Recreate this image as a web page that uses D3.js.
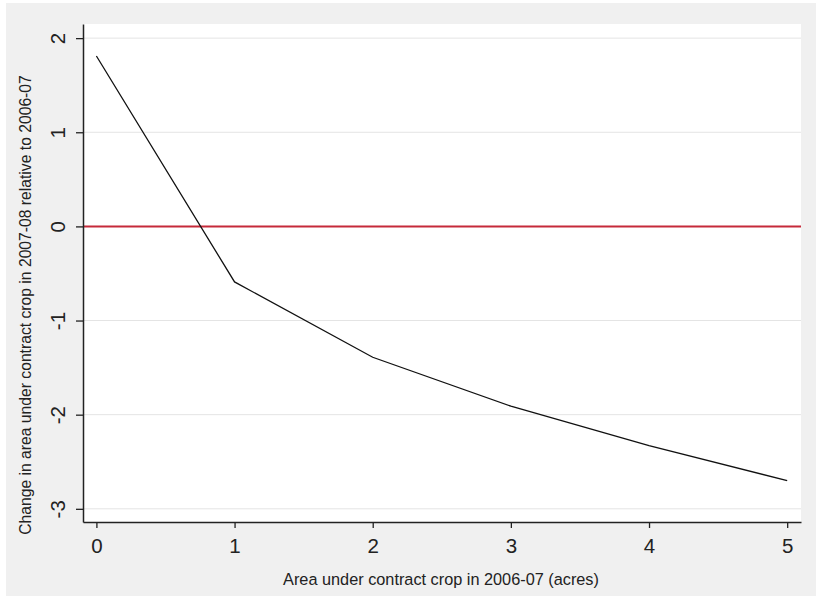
<!DOCTYPE html>
<html>
<head>
<meta charset="utf-8">
<script src="https://cdn.jsdelivr.net/npm/d3@7"></script>
<style>
  body { margin: 0; background: #fff; }
  text { font-family: "Liberation Sans", Arial, sans-serif; fill: #222; }
</style>
</head>
<body>
<svg id="chart" width="816" height="596"></svg>
<script>
// data
var acres = [0, 1, 2, 3, 4, 5];
var change = [1.81, -0.59, -1.39, -1.91, -2.33, -2.70];
var xTicks = [0, 1, 2, 3, 4, 5];
var yTicks = [-3, -2, -1, 0, 1, 2];

var svg = d3.select("#chart");

// plot box (white region)
var box = { left: 83, right: 801, top: 24, bottom: 522 };

var xScale = d3.scaleLinear().domain([-0.097, 5.1]).range([box.left, box.right]);
var yScale = d3.scaleLinear().domain([-3.14, 2.15]).range([box.bottom, box.top]);

// outer grey background
svg.append("rect")
    .attr("x", 6).attr("y", 3)
    .attr("width", 810).attr("height", 593)
    .attr("fill", "#f0f0f0");

svg.append("rect")
    .attr("x", box.left).attr("y", box.top)
    .attr("width", box.right - box.left)
    .attr("height", box.bottom - box.top)
    .attr("fill", "#fff");

// grid lines
svg.append("g").selectAll("line")
    .data(yTicks).enter()
    .append("line")
    .attr("x1", box.left).attr("x2", box.right)
    .attr("y1", function (d) { return yScale(d); })
    .attr("y2", function (d) { return yScale(d); })
    .attr("stroke", "#e4e4e4")
    .attr("stroke-width", 1);

// zero reference line
svg.append("line")
    .attr("x1", box.left).attr("x2", box.right)
    .attr("y1", yScale(0)).attr("y2", yScale(0))
    .attr("stroke", "#c62a3a")
    .attr("stroke-width", 2);

// the curve
var pts = acres.map(function (a, i) { return [a, change[i]]; });
var line = d3.line()
    .x(function (d) { return xScale(d[0]); })
    .y(function (d) { return yScale(d[1]); });

svg.append("path")
    .datum(pts)
    .attr("d", line)
    .attr("fill", "none")
    .attr("stroke", "#111")
    .attr("stroke-width", 1.3);

// axes
var xAxis = d3.axisBottom(xScale).tickValues(xTicks).tickSize(6).tickSizeOuter(0).tickFormat(d3.format("d"));
var yAxis = d3.axisLeft(yScale).tickValues(yTicks).tickSize(7).tickSizeOuter(0).tickFormat(function (d) { return d < 0 ? "-" + Math.abs(d) : d; });

var gx = svg.append("g")
    .attr("transform", "translate(0," + box.bottom + ")")
    .call(xAxis);

var gy = svg.append("g")
    .attr("transform", "translate(" + box.left + ",0)")
    .call(yAxis);

[gx, gy].forEach(function (g) {
    g.select(".domain").attr("stroke", "#222").attr("stroke-width", 1.5);
    g.selectAll(".tick line").attr("stroke", "#222").attr("stroke-width", 1.3);
    g.selectAll(".tick text")
        .style("font-family", "'Liberation Sans', Arial, sans-serif")
        .style("font-size", "20.5px")
        .attr("fill", "#222");
});

gx.selectAll(".tick text").attr("y", 31).attr("dy", 0);

gy.selectAll(".tick text")
    .attr("text-anchor", "middle")
    .attr("x", 0)
    .attr("y", -18)
    .attr("dy", 0)
    .attr("transform", "rotate(-90)");

// axis titles
svg.append("text")
    .attr("x", 441)
    .attr("y", 585)
    .attr("text-anchor", "middle")
    .style("font-size", "16.3px")
    .text("Area under contract crop in 2006-07 (acres)");

svg.append("text")
    .attr("transform", "translate(31,305) rotate(-90)")
    .attr("text-anchor", "middle")
    .style("font-size", "15.7px")
    .text("Change in area under contract crop in 2007-08 relative to 2006-07");
</script>
</body>
</html>
